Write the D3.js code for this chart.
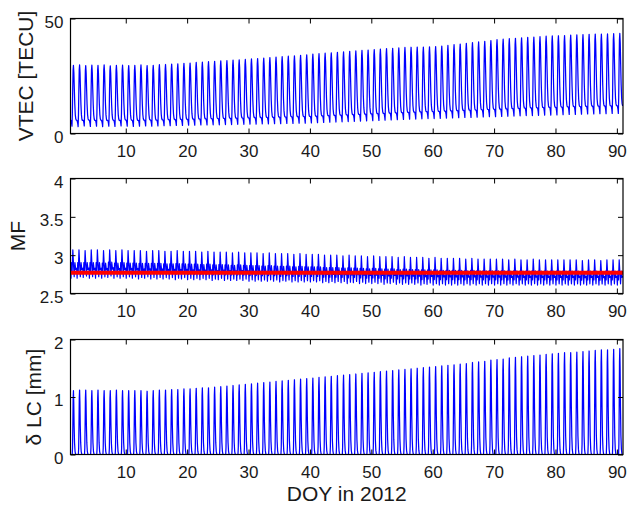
<!DOCTYPE html>
<html>
<head>
<meta charset="utf-8">
<script src="https://cdn.jsdelivr.net/npm/d3@7"></script>
<style>
  html, body { margin: 0; padding: 0; background: #fff; }
  svg { display: block; }
  text { font-family: "Liberation Sans", Arial, Helvetica, sans-serif; fill: #1a1a1a; }
</style>
</head>
<body>
<svg id="chart" width="628" height="505"></svg>
<script>
// Day of year (one diurnal cycle per day, day d spans [d, d+1])
const doy = d3.range(1, 91);
const xTicks = [10, 20, 30, 40, 50, 60, 70, 80, 90];

// Daily maxima / minima of vertical TEC [TECU]
const vtecPeak = [
  29.6, 29.8, 29.5, 29.7, 29.6, 29.8, 29.4, 29.6, 29.7, 29.5,
  29.6, 29.8, 29.5, 29.6, 29.9, 30.0, 30.2, 30.3, 30.5, 30.6,
  30.9, 31.0, 31.2, 31.4, 31.6, 31.7, 31.9, 32.0, 32.2, 32.4,
  32.6, 32.8, 33.0, 33.2, 33.4, 33.6, 33.8, 34.0, 34.2, 34.5,
  34.7, 34.9, 35.1, 35.3, 35.5, 35.7, 35.9, 36.1, 36.3, 36.5,
  36.7, 36.9, 37.0, 37.2, 37.4, 37.5, 37.6, 37.6, 37.7, 37.8,
  38.0, 38.3, 38.6, 38.9, 39.2, 39.5, 39.8, 40.1, 40.4, 40.8,
  41.0, 41.2, 41.4, 41.6, 41.8, 41.9, 42.1, 42.3, 42.4, 42.5,
  42.6, 42.8, 42.9, 43.0, 43.1, 43.2, 43.2, 43.3, 43.4, 43.5
];
const vtecLow = [
  3.2, 3.0, 3.3, 3.1, 3.2, 3.0, 3.2, 3.1, 3.3, 3.2,
  3.1, 3.2, 3.3, 3.2, 3.3, 3.4, 3.4, 3.5, 3.5, 3.6,
  3.6, 3.7, 3.7, 3.8, 3.8, 3.9, 3.9, 4.0, 4.0, 4.1,
  4.1, 4.2, 4.2, 4.3, 4.3, 4.4, 4.4, 4.5, 4.5, 4.6,
  4.7, 4.8, 4.9, 5.0, 5.1, 5.2, 5.3, 5.4, 5.5, 5.6,
  5.7, 5.8, 5.9, 6.0, 6.1, 6.2, 6.3, 6.4, 6.5, 6.5,
  6.6, 6.7, 6.8, 6.9, 7.0, 7.0, 7.1, 7.2, 7.3, 7.3,
  7.4, 7.5, 7.6, 7.7, 7.8, 7.8, 7.9, 8.0, 8.0, 8.1,
  8.2, 8.3, 8.3, 8.4, 8.5, 8.5, 8.6, 8.6, 8.7, 8.7
];

// Daily maxima / minima of the ionospheric mapping function
const mfHigh = [
  3.07, 3.07, 3.06, 3.07, 3.07, 3.06, 3.07, 3.06, 3.07, 3.06,
  3.06, 3.06, 3.05, 3.06, 3.06, 3.05, 3.05, 3.06, 3.05, 3.05,
  3.05, 3.04, 3.05, 3.04, 3.04, 3.04, 3.03, 3.04, 3.03, 3.03,
  3.03, 3.02, 3.03, 3.02, 3.02, 3.02, 3.01, 3.02, 3.01, 3.01,
  3.01, 3.00, 3.00, 3.00, 2.99, 3.00, 2.99, 2.99, 2.98, 2.99,
  2.98, 2.98, 2.98, 2.97, 2.98, 2.97, 2.97, 2.97, 2.96, 2.97,
  2.96, 2.96, 2.96, 2.96, 2.95, 2.96, 2.95, 2.95, 2.95, 2.95,
  2.95, 2.94, 2.95, 2.94, 2.94, 2.95, 2.94, 2.94, 2.94, 2.94,
  2.94, 2.94, 2.94, 2.93, 2.94, 2.94, 2.93, 2.94, 2.94, 2.94
];
const mfLow = [
  2.70, 2.70, 2.71, 2.70, 2.70, 2.70, 2.71, 2.70, 2.70, 2.70,
  2.70, 2.69, 2.70, 2.69, 2.69, 2.69, 2.69, 2.68, 2.69, 2.68,
  2.68, 2.68, 2.68, 2.67, 2.68, 2.67, 2.67, 2.67, 2.67, 2.66,
  2.66, 2.66, 2.66, 2.66, 2.65, 2.66, 2.65, 2.65, 2.65, 2.65,
  2.65, 2.64, 2.64, 2.64, 2.64, 2.63, 2.64, 2.63, 2.63, 2.63,
  2.63, 2.62, 2.63, 2.62, 2.62, 2.62, 2.62, 2.61, 2.62, 2.61,
  2.61, 2.61, 2.61, 2.61, 2.61, 2.61, 2.61, 2.61, 2.61, 2.61,
  2.61, 2.61, 2.61, 2.61, 2.61, 2.61, 2.61, 2.61, 2.61, 2.61,
  2.61, 2.61, 2.61, 2.61, 2.61, 2.61, 2.61, 2.61, 2.61, 2.61
];
const mfMean = 2.77;

// Daily maxima of the second-order ionospheric delay on LC [mm] (nightly floor 0)
const lcPeak = [
  1.11, 1.12, 1.12, 1.11, 1.12, 1.11, 1.11, 1.12, 1.11, 1.11,
  1.11, 1.11, 1.10, 1.11, 1.12, 1.12, 1.13, 1.13, 1.14, 1.14,
  1.15, 1.16, 1.16, 1.17, 1.18, 1.19, 1.20, 1.21, 1.22, 1.23,
  1.24, 1.25, 1.26, 1.27, 1.28, 1.29, 1.30, 1.31, 1.32, 1.33,
  1.34, 1.35, 1.36, 1.37, 1.38, 1.39, 1.40, 1.41, 1.42, 1.43,
  1.44, 1.45, 1.46, 1.47, 1.48, 1.49, 1.50, 1.51, 1.52, 1.53,
  1.54, 1.55, 1.56, 1.57, 1.58, 1.60, 1.61, 1.62, 1.64, 1.65,
  1.66, 1.68, 1.69, 1.70, 1.71, 1.72, 1.73, 1.74, 1.75, 1.76,
  1.77, 1.77, 1.78, 1.79, 1.80, 1.81, 1.82, 1.82, 1.83, 1.84
];
const lcLow = 0;

// Diurnal shapes: [fraction of day, level between the day's minimum (0) and maximum (1)]
const vtecShape = [
  [0.00, 0.10], [0.10, 0.09], [0.18, 0.05], [0.24, 0.00], [0.30, 0.20],
  [0.36, 0.60], [0.42, 0.92], [0.48, 1.00], [0.55, 0.88], [0.62, 0.62],
  [0.70, 0.36], [0.78, 0.19], [0.86, 0.12], [0.93, 0.10], [1.00, 0.10]
];
const mfShape = [
  [0.00, 0.35], [0.08, 0.00], [0.18, 0.55], [0.26, 0.20], [0.38, 1.00],
  [0.50, 0.45], [0.60, 0.05], [0.72, 0.55], [0.85, 0.30], [1.00, 0.35]
];
const lcShape = [
  [0.00, 0.00], [0.28, 0.00], [0.33, 0.10], [0.38, 0.45], [0.43, 0.88],
  [0.48, 1.00], [0.53, 0.82], [0.59, 0.45], [0.66, 0.18], [0.74, 0.05],
  [0.82, 0.01], [0.90, 0.00], [1.00, 0.00]
];

// Expand daily extremes into a continuous series using a diurnal shape
function dailySeries(days, hi, lo, shape) {
  const pts = [];
  days.forEach((d, i) => {
    const h = hi[i], l = Array.isArray(lo) ? lo[i] : lo;
    shape.forEach(([f, v], k) => {
      if (i > 0 && k === 0) return;
      pts.push([d + f, l + v * (h - l)]);
    });
  });
  return pts;
}

const svg = d3.select("#chart");
const left = 70.5, right = 623, panelH = 115;
const x = d3.scaleLinear().domain([1, 91]).range([left, right]);

const panels = [
  { top: 18.5, domain: [0, 50], ticks: [0, 50], fmt: d => d, label: "VTEC [TECU]", labelX: 33,
    series: [{ data: dailySeries(doy, vtecPeak, vtecLow, vtecShape), color: "#0000ff", width: 1.25 }] },
  { top: 178.5, domain: [2.5, 4], ticks: [2.5, 3, 3.5, 4], fmt: d => (d % 1 === 0 ? d : d.toFixed(1)), label: "MF", labelX: 25,
    series: [
      { data: dailySeries(doy, mfHigh, mfLow, mfShape), color: "#0000ff", width: 1.2 },
      { data: [[1, mfMean], [91, mfMean]], color: "#ff0000", width: 4 }
    ] },
  { top: 339.5, domain: [0, 2], ticks: [0, 1, 2], fmt: d => d, label: "\u03b4 LC [mm]", labelX: 41,
    series: [{ data: dailySeries(doy, lcPeak, lcLow, lcShape), color: "#0000ff", width: 1.25 }] }
];

panels.forEach((p, pi) => {
  const y = d3.scaleLinear().domain(p.domain).range([p.top + panelH, p.top]);
  const g = svg.append("g");

  const clipId = "clip" + pi;
  svg.append("clipPath").attr("id", clipId)
    .append("rect").attr("x", left).attr("y", p.top).attr("width", right - left).attr("height", panelH);

  const line = d3.line().x(d => x(d[0])).y(d => y(d[1]));
  const plot = g.append("g").attr("clip-path", `url(#${clipId})`);
  p.series.forEach(s => {
    plot.append("path").datum(s.data)
      .attr("d", line).attr("fill", "none")
      .attr("stroke", s.color).attr("stroke-width", s.width)
      .attr("stroke-linejoin", "round");
  });

  // Axes with inward ticks on all four sides
  const axB = g.append("g").attr("transform", `translate(0,${p.top + panelH})`)
    .call(d3.axisBottom(x).tickValues(xTicks).tickSizeInner(-5).tickSizeOuter(0).tickPadding(11));
  const axT = g.append("g").attr("transform", `translate(0,${p.top})`)
    .call(d3.axisTop(x).tickValues(xTicks).tickSizeInner(-5).tickSizeOuter(0).tickFormat(""));
  const axL = g.append("g").attr("transform", `translate(${left},0)`)
    .call(d3.axisLeft(y).tickValues(p.ticks).tickSizeInner(-5).tickSizeOuter(0).tickPadding(7).tickFormat(p.fmt));
  const axR = g.append("g").attr("transform", `translate(${right},0)`)
    .call(d3.axisRight(y).tickValues(p.ticks).tickSizeInner(-5).tickSizeOuter(0).tickFormat(""));
  [axB, axT, axL, axR].forEach(a => {
    a.select(".domain").remove();
    a.selectAll(".tick line").attr("stroke", "#000").attr("stroke-width", 1);
    a.selectAll(".tick text").attr("font-size", 17).attr("fill", "#1a1a1a")
      .attr("font-family", "'Liberation Sans', Arial, Helvetica, sans-serif");
  });
  axL.selectAll(".tick text").attr("dy", "0.5em");

  g.append("rect").attr("x", left).attr("y", p.top).attr("width", right - left).attr("height", panelH)
    .attr("fill", "none").attr("stroke", "#000").attr("stroke-width", 1.2);

  g.append("text")
    .attr("transform", `translate(${p.labelX},${p.top + panelH / 2}) rotate(-90)`)
    .attr("text-anchor", "middle").attr("font-size", 21)
    .text(p.label);
});

svg.append("text")
  .attr("x", (left + right) / 2).attr("y", 501)
  .attr("text-anchor", "middle").attr("font-size", 21)
  .text("DOY in 2012");
</script>
</body>
</html>
